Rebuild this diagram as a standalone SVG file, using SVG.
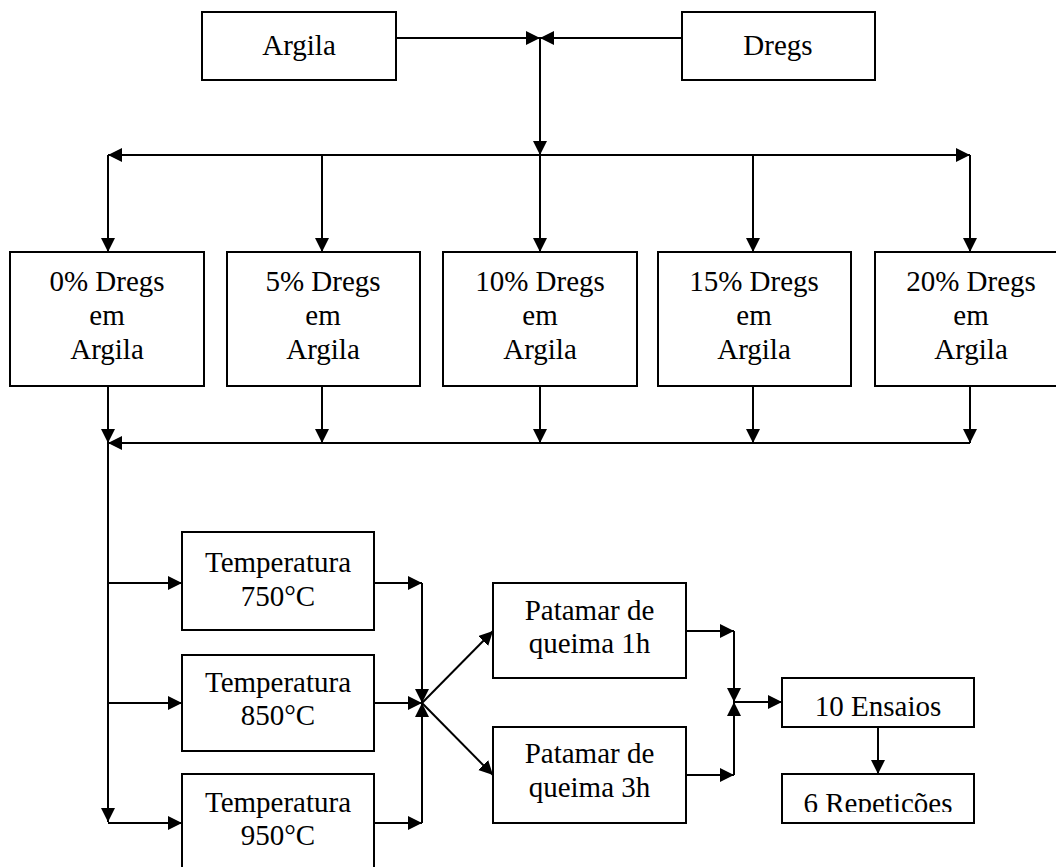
<svg xmlns="http://www.w3.org/2000/svg" width="1056" height="867" viewBox="0 0 1056 867">
  <style>
    .box { fill: #ffffff; stroke: #000000; stroke-width: 2; }
    .lbl { font-family: "Liberation Serif", "Times New Roman", serif; font-size: 29px; fill: #000000; text-anchor: middle; }
    .ln { fill: none; stroke: #000000; stroke-width: 2; }
    .arr { fill: none; stroke: #000000; stroke-width: 2; marker-end: url(#head); }
  </style>
  <defs>
    <marker id="head" markerUnits="userSpaceOnUse" markerWidth="15" markerHeight="15" refX="14" refY="7" orient="auto">
      <path d="M0,0 L14,7 L0,14 Z" fill="#000000"/>
    </marker>
    <clipPath id="clipRep">
      <rect x="782" y="774" width="192" height="38"/>
    </clipPath>
  </defs>
  <rect width="1056" height="867" fill="#ffffff"/>

  <!-- raw materials -->
  <g id="argila">
    <rect class="box" x="202" y="12" width="194" height="68"/>
    <text class="lbl" x="299" y="55">Argila</text>
  </g>
  <g id="dregs">
    <rect class="box" x="682" y="12" width="193" height="68"/>
    <text class="lbl" x="778" y="55">Dregs</text>
  </g>

  <!-- mixtures -->
  <g id="mix0">
    <rect class="box" x="10" y="252" width="194" height="134"/>
    <text class="lbl" x="107" y="291">0% Dregs</text>
    <text class="lbl" x="107" y="325">em</text>
    <text class="lbl" x="107" y="359">Argila</text>
  </g>
  <g id="mix5">
    <rect class="box" x="227" y="252" width="193" height="134"/>
    <text class="lbl" x="323" y="291">5% Dregs</text>
    <text class="lbl" x="323" y="325">em</text>
    <text class="lbl" x="323" y="359">Argila</text>
  </g>
  <g id="mix10">
    <rect class="box" x="443" y="252" width="194" height="134"/>
    <text class="lbl" x="540" y="291">10% Dregs</text>
    <text class="lbl" x="540" y="325">em</text>
    <text class="lbl" x="540" y="359">Argila</text>
  </g>
  <g id="mix15">
    <rect class="box" x="658" y="252" width="193" height="134"/>
    <text class="lbl" x="754" y="291">15% Dregs</text>
    <text class="lbl" x="754" y="325">em</text>
    <text class="lbl" x="754" y="359">Argila</text>
  </g>
  <g id="mix20">
    <rect class="box" x="875" y="252" width="193" height="134"/>
    <text class="lbl" x="971" y="291">20% Dregs</text>
    <text class="lbl" x="971" y="325">em</text>
    <text class="lbl" x="971" y="359">Argila</text>
  </g>

  <!-- firing temperatures -->
  <g id="t750">
    <rect class="box" x="182" y="532" width="192" height="98"/>
    <text class="lbl" x="278" y="572">Temperatura</text>
    <text class="lbl" x="278" y="606">750°C</text>
  </g>
  <g id="t850">
    <rect class="box" x="182" y="655" width="192" height="96"/>
    <text class="lbl" x="278" y="692">Temperatura</text>
    <text class="lbl" x="278" y="725">850°C</text>
  </g>
  <g id="t950">
    <rect class="box" x="182" y="774" width="192" height="98"/>
    <text class="lbl" x="278" y="812">Temperatura</text>
    <text class="lbl" x="278" y="845">950°C</text>
  </g>

  <!-- soak times -->
  <g id="p1h">
    <rect class="box" x="493" y="583" width="193" height="95"/>
    <text class="lbl" x="589.5" y="620">Patamar de</text>
    <text class="lbl" x="589.5" y="653">queima 1h</text>
  </g>
  <g id="p3h">
    <rect class="box" x="493" y="727" width="193" height="96"/>
    <text class="lbl" x="589.5" y="763">Patamar de</text>
    <text class="lbl" x="589.5" y="797">queima 3h</text>
  </g>

  <!-- tests -->
  <g id="ensaios">
    <rect class="box" x="782" y="678" width="192" height="49"/>
    <text class="lbl" x="878" y="716">10 Ensaios</text>
  </g>
  <g id="repeticoes">
    <rect class="box" x="782" y="774" width="192" height="49"/>
    <text class="lbl" x="878" y="813" clip-path="url(#clipRep)">6 Repetições</text>
  </g>

  <g id="connectors">
    <!-- materials to mixing point -->
    <path class="arr" d="M396,38 H540"/>
    <path class="arr" d="M682,38 H540"/>
    <path class="arr" d="M540,38 V155"/>
    <!-- distribution bus -->
    <path class="arr" d="M540,155 H108"/>
    <path class="arr" d="M540,155 H970"/>
    <path class="arr" d="M108,155 V252"/>
    <path class="arr" d="M322,155 V252"/>
    <path class="arr" d="M540,155 V252"/>
    <path class="arr" d="M753,155 V252"/>
    <path class="arr" d="M970,155 V252"/>
    <!-- collection bus -->
    <path class="arr" d="M322,386 V443"/>
    <path class="arr" d="M540,386 V443"/>
    <path class="arr" d="M753,386 V443"/>
    <path class="arr" d="M970,386 V443"/>
    <path class="arr" d="M970,443 H108"/>
    <path class="arr" d="M108,386 V443"/>
    <path class="arr" d="M108,443 V822"/>
    <!-- to temperatures -->
    <path class="arr" d="M108,583 H182"/>
    <path class="arr" d="M108,703 H182"/>
    <path class="arr" d="M108,823 H182"/>
    <!-- from temperatures -->
    <path class="arr" d="M374,583 H422"/>
    <path class="arr" d="M374,703 H422"/>
    <path class="arr" d="M374,823 H422"/>
    <path class="arr" d="M422,583 V703"/>
    <path class="arr" d="M422,823 V703"/>
    <!-- to soak times -->
    <path class="arr" d="M422,703 L493,631"/>
    <path class="arr" d="M422,703 L493,775"/>
    <!-- from soak times -->
    <path class="arr" d="M686,631 H734"/>
    <path class="arr" d="M686,775 H734"/>
    <path class="arr" d="M734,631 V702"/>
    <path class="arr" d="M734,775 V702"/>
    <path class="arr" d="M734,702 H782"/>
    <!-- tests to repetitions -->
    <path class="arr" d="M878,727 V774"/>
  </g>
</svg>
